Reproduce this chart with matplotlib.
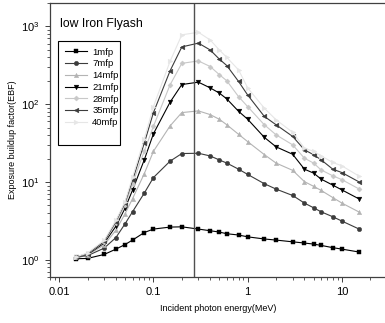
import numpy as np
import matplotlib
matplotlib.use("Agg")
import matplotlib.pyplot as plt
from matplotlib.patches import Rectangle

plt.rcParams['font.family'] = ['Liberation Sans', 'DejaVu Sans']
plt.rcParams['mathtext.fontset'] = 'custom'
plt.rcParams['mathtext.rm'] = 'Liberation Sans'
plt.rcParams['mathtext.it'] = 'Liberation Sans'

# Photon energies (MeV)
energy = [0.015, 0.02, 0.03, 0.04, 0.05, 0.06, 0.08, 0.1, 0.15, 0.2, 0.3, 0.4,
          0.5, 0.6, 0.8, 1, 1.5, 2, 3, 4, 5, 6, 8, 10, 15]

# Exposure buildup factors per penetration depth
ebf_1 = [1.03, 1.04, 1.17, 1.37, 1.57, 1.79, 2.24, 2.48, 2.63, 2.65, 2.48, 2.36,
         2.27, 2.16, 2.08, 1.97, 1.85, 1.79, 1.70, 1.64, 1.59, 1.53, 1.43, 1.37, 1.26]
ebf_7 = [1.07, 1.13, 1.41, 1.93, 2.9, 4.14, 7.2, 11.4, 18.5, 23.2, 23.4, 21.6,
         19.2, 17.5, 14.6, 12.5, 9.5, 8.1, 6.7, 5.35, 4.66, 4.14, 3.57, 3.14, 2.5]
ebf_14 = [1.07, 1.15, 1.55, 2.4, 3.9, 6.1, 12.8, 24.8, 52.5, 78, 82, 73.5,
          64, 54.4, 41, 33, 22.5, 17.5, 14.1, 10.1, 8.8, 7.8, 6.3, 5.35, 4.14]
ebf_21 = [1.07, 1.17, 1.64, 2.7, 4.6, 7.85, 19.3, 41.7, 106, 179, 192, 162,
          139, 117, 81, 64, 37.5, 28.3, 22.7, 14.6, 13.0, 10.9, 9.1, 7.9, 6.1]
ebf_28 = [1.08, 1.19, 1.7, 2.95, 5.0, 9.5, 25, 52, 177, 335, 360, 305,
          240, 200, 125, 93, 54.4, 40.4, 30, 20.2, 17.5, 14.3, 12.0, 10.7, 8.2]
ebf_35 = [1.08, 1.2, 1.72, 3.1, 5.4, 10.5, 31.6, 78, 268, 545, 610, 498,
          380, 314, 196, 131, 69.7, 54.4, 38.5, 25.9, 22.4, 19.3, 14.6, 13.2, 10.1]
ebf_40 = [1.09, 1.22, 1.78, 3.2, 5.6, 11.5, 36, 93, 355, 780, 840, 670,
          498, 400, 276, 162, 89, 63, 43.5, 27.3, 24.7, 21.7, 17.8, 16.1, 12.0]

labels = ['1mfp', '7mfp', '14mfp', '21mfp', '28mfp', '35mfp', '40mfp']
series = [ebf_1, ebf_7, ebf_14, ebf_21, ebf_28, ebf_35, ebf_40]
markers = ['s', 'o', '^', 'v', 'D', '<', '>']
colors = ['#000000', '#3c3c3c', '#b4b4b4', '#000000', '#c8c8c8', '#3c3c3c', '#e6e6e6']
sizes = [2.8, 3.2, 3.2, 3.4, 2.6, 3.4, 3.4]

edge_energy = 0.27

fig = plt.figure(figsize=(3.85, 3.23), dpi=100)
ax = fig.add_axes([0.13, 0.1424, 0.875, 0.8483])

for y, lab, m, c, s in zip(series, labels, markers, colors, sizes):
    ax.plot(energy, y, marker=m, color=c, markersize=s, linewidth=0.8,
            markeredgewidth=0.3, markeredgecolor=c, label=lab)

ax.axvline(edge_energy, color='#505050', linewidth=1.0)

ax.set_xscale('log')
ax.set_yscale('log')
ax.set_xlim(0.008, 30)
ax.set_ylim(0.6, 2000)

ax.set_xlabel('Incident photon energy(MeV)', fontsize=6.5, labelpad=5)
ax.set_ylabel('Exposure buildup factor(EBF)', fontsize=6.5, labelpad=3)

ax.tick_params(which='major', labelsize=8, length=3.5, width=0.7, direction='out',
               top=False, right=False, pad=4, color='#404040')
ax.tick_params(which='minor', length=2, width=0.6, direction='out',
               top=False, right=False, color='#404040')
ax.xaxis.set_major_formatter(matplotlib.ticker.FuncFormatter(lambda v, p: f'{v:g}'))

for sp in ax.spines.values():
    sp.set_linewidth(0.9)
    sp.set_color('#404040')

ax.text(0.03, 0.925, 'low Iron Flyash', transform=ax.transAxes, fontsize=8.8,
        ha='left', va='center')

# legend box drawn separately so it can have extra room below the entries
ax.add_patch(Rectangle((0.024, 0.482), 0.184, 0.379, transform=ax.transAxes,
                       fill=False, edgecolor='black', linewidth=0.8, zorder=5))
leg = ax.legend(loc='upper left', bbox_to_anchor=(0.024, 0.861), fontsize=6.8,
                frameon=False, handlelength=2.4, handletextpad=0.5,
                labelspacing=0.29, borderpad=0.7, borderaxespad=0)

fig.savefig('out.png', dpi=100)
